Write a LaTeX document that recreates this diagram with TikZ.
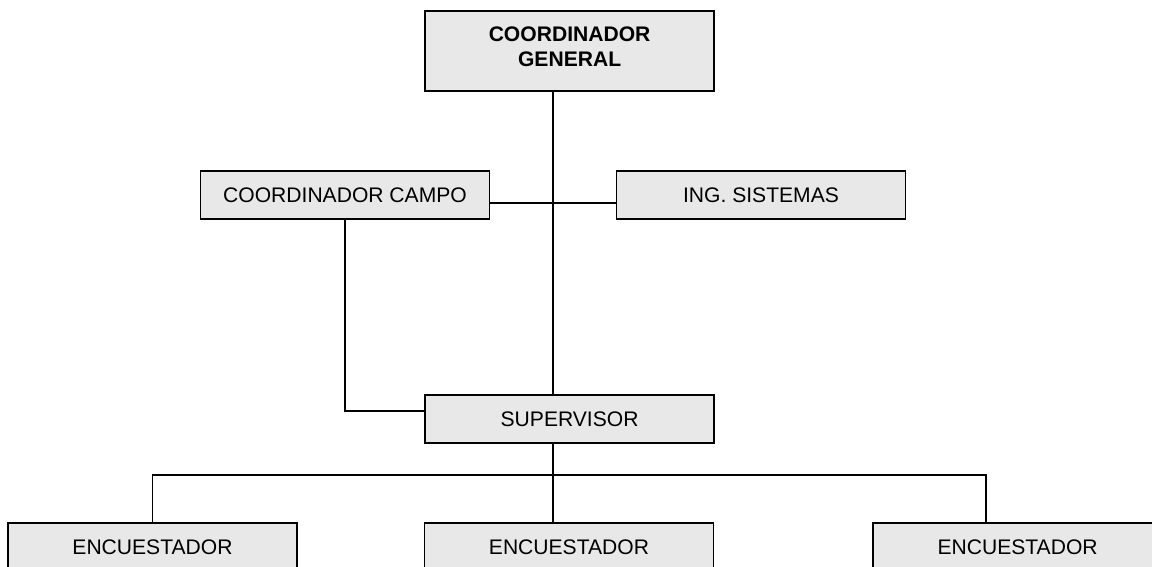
\documentclass[tikz,border=0pt]{standalone}
\usepackage{fontspec}
\setmainfont{Liberation Sans}
\definecolor{boxgray}{HTML}{E8E8E8}

\begin{document}
\begin{tikzpicture}[font=\fontsize{15}{17.8}\selectfont, line width=1.4pt,
	puesto/.style={draw, fill=boxgray, minimum width=7.225cm, minimum height=1.2cm, inner sep=0pt}]
	\clip (0,-14.175) rectangle (28.8,0);
	% boxes
	\node[puesto, minimum height=2cm, label={[align=center, font=\fontsize{15}{17.8}\selectfont\bfseries, yshift=.1cm]center:COORDINADOR\\GENERAL}] (cg) at (14.24,-1.275) {};
	\node[puesto] (campo) at (8.625,-4.875) {COORDINADOR CAMPO};
	\node[puesto] (sis) at (19.025,-4.875) {ING. SISTEMAS};
	\node[puesto] (sup) at (14.24,-10.475) {SUPERVISOR};
	\node[puesto] (enc1) at (3.8125,-13.675) {ENCUESTADOR};
	\node[puesto] (enc2) at (14.225,-13.675) {ENCUESTADOR};
	\node[puesto] (enc3) at (25.44,-13.675) {ENCUESTADOR};
	% junctions
	\coordinate (trunk) at (13.825,-5.075);
	\coordinate (bus) at (13.825,-11.875);
	\coordinate (drop3) at (24.65,-11.875);
	% lines
	\draw (cg.south -| trunk) -- (sup.north -| trunk);
	\draw (campo.east |- trunk) -- (sis.west |- trunk);
	\draw (campo.south) |- ([yshift=.2cm]sup.west);
	\draw (sup.south -| bus) -- (enc2.north -| bus);
	\draw (enc1.north) |- (drop3) -- (enc3.north -| drop3);
\end{tikzpicture}
\end{document}
